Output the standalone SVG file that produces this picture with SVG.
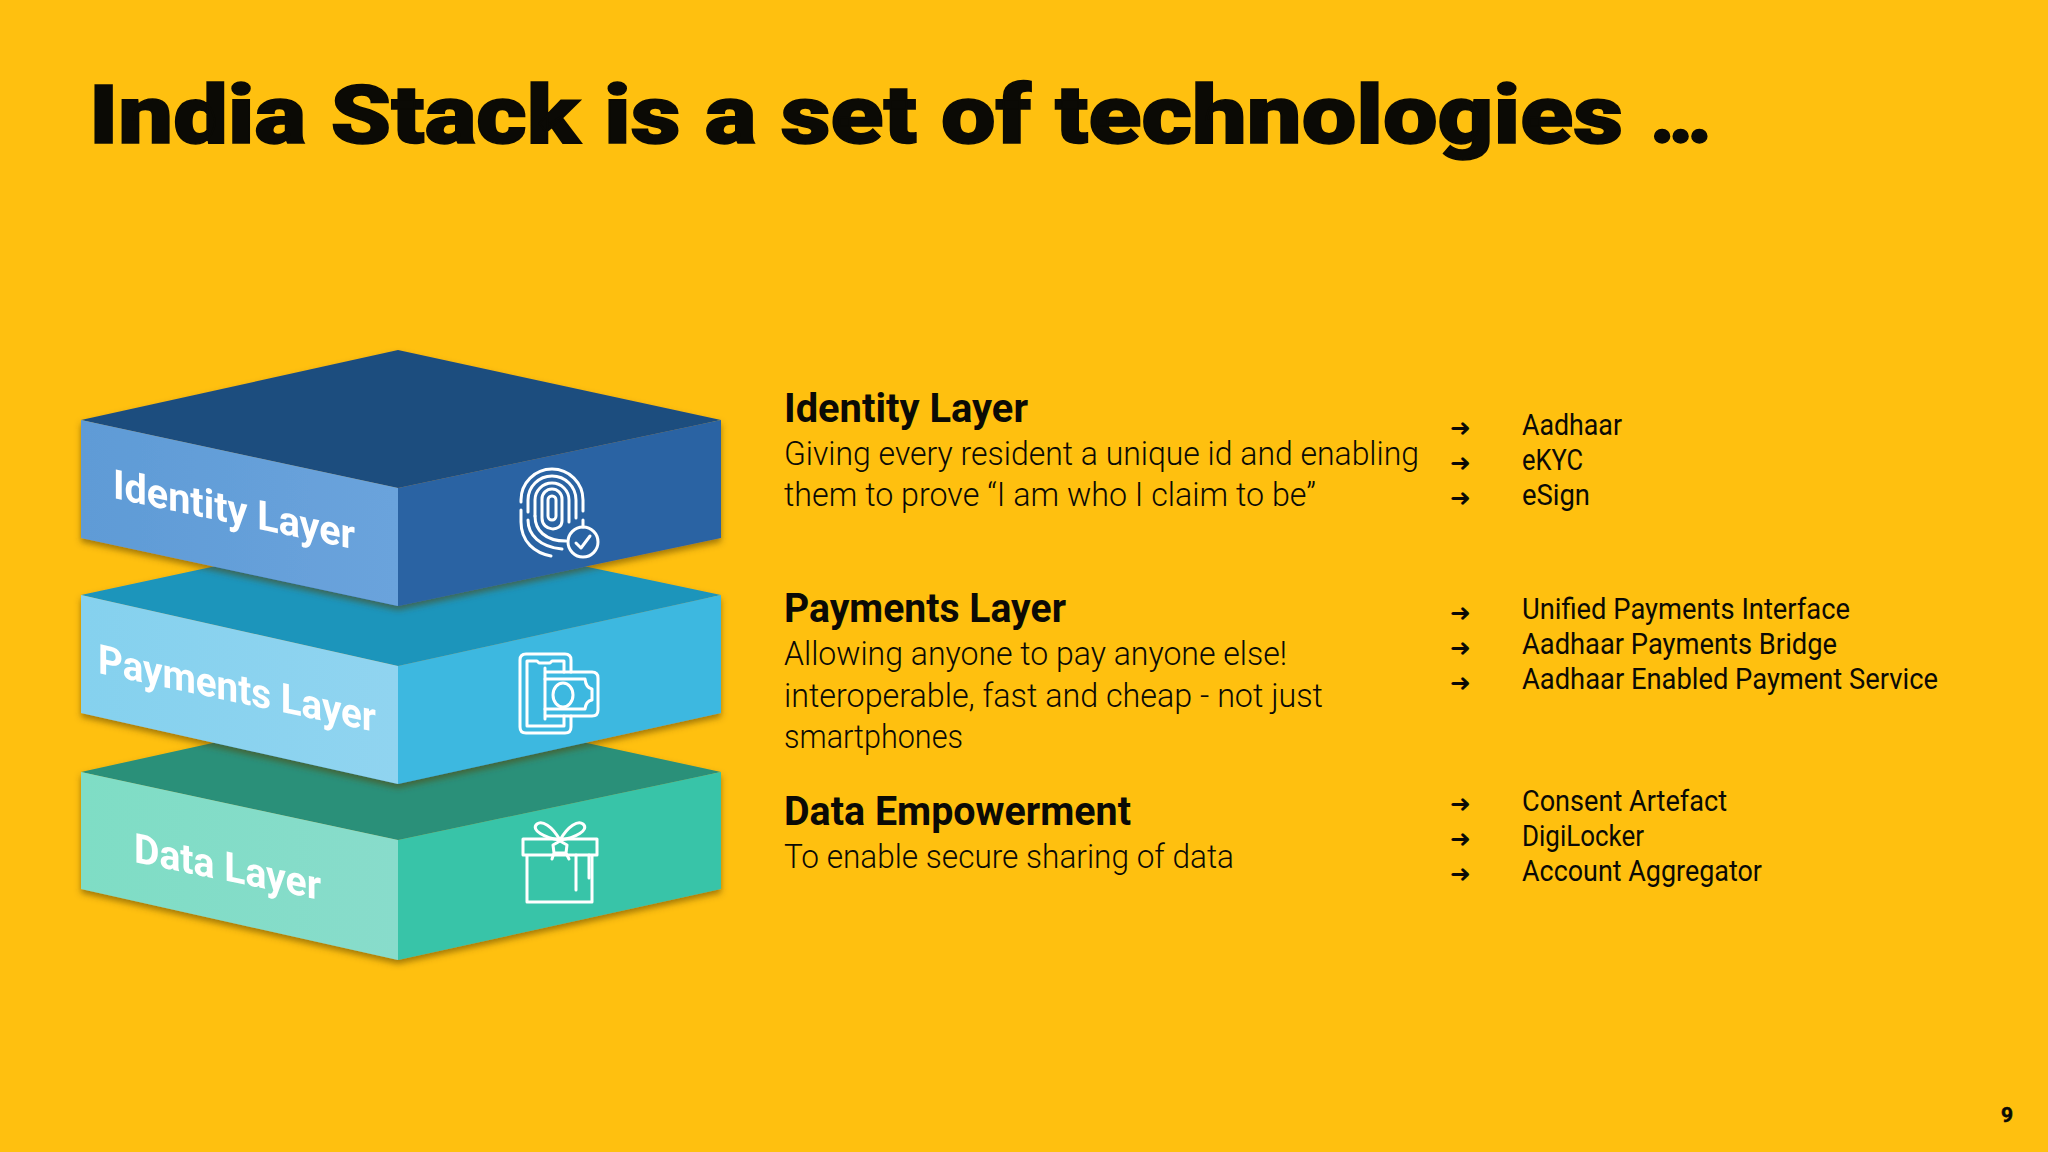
<svg xmlns="http://www.w3.org/2000/svg" width="2048" height="1152" viewBox="0 0 2048 1152">
<style>
text{font-family:Roboto,"Liberation Sans",sans-serif;fill:#0b0a05}
.h{font-size:40px;font-weight:700}
.b{font-size:33px;font-weight:300}
.l{font-size:29px;font-weight:400}
.a{font-family:"DejaVu Sans",sans-serif;font-size:24px}
.f{font-size:41px;font-weight:700;fill:#fff}
.i{fill:none;stroke:#fff;stroke-width:3;stroke-linecap:round;stroke-linejoin:round}
</style>
<defs>
<filter id="s" x="-5%" y="-5%" width="110%" height="115%"><feDropShadow dx="0" dy="4" stdDeviation="3" flood-color="#5a4000" flood-opacity=".55"/></filter>
<linearGradient id="l1"><stop offset="0" stop-color="#5f9bd6"/><stop offset="1" stop-color="#6aa3dc"/></linearGradient>
<linearGradient id="l2"><stop offset="0" stop-color="#85d1ee"/><stop offset="1" stop-color="#90d4f0"/></linearGradient>
<linearGradient id="l3"><stop offset="0" stop-color="#7fddc5"/><stop offset="1" stop-color="#88dccb"/></linearGradient>
</defs>
<rect width="2048" height="1152" fill="#ffc00f"/>
<text id="title" y="143" font-size="82" font-weight="900" stroke="#0b0a05" stroke-width="1.5"><tspan x="89" textLength="1534" lengthAdjust="spacingAndGlyphs">India Stack is a set of technologies</tspan> <tspan x="1650" textLength="62" lengthAdjust="spacing">...</tspan></text>

<g id="data-block" filter="url(#s)">
<path d="M81 772 398 702 721 772 398 840Z" fill="#2b9079"/>
<path d="M81 772 398 840V960L81 889Z" fill="url(#l3)"/>
<path d="M398 840 721 772V889L398 960Z" fill="#38c4a8"/>
<text class="f" transform="translate(134 862) skewY(11.5)" textLength="187" lengthAdjust="spacingAndGlyphs">Data Layer</text>
<g class="i">
<path d="M523 839H597V855H523ZM527 855V902H592V855"/>
<path d="M560 840C552 826 542 820 537 824C530 830 545 838 560 840C568 826 578 820 583 824C590 830 575 838 560 840"/>
<path d="M553 845 560 841 567 845 566 853H554ZM554 853 552 859M566 853 569 859M576 855V890M589 855V878"/>
</g>
</g>

<g id="payments-block" filter="url(#s)">
<path d="M81 595 398 527 721 595 398 666Z" fill="#1e95bb"/>
<path d="M81 595 398 666V784L81 713Z" fill="url(#l2)"/>
<path d="M398 666 721 595V713L398 784Z" fill="#3db8e0"/>
<text class="f" transform="translate(98 673) skewY(12)" textLength="278" lengthAdjust="spacingAndGlyphs">Payments Layer</text>
<g class="i">
<path d="M571 672V660Q571 654 565 654H526Q520 654 520 660V727Q520 733 526 733H565Q571 733 571 727V716"/>
<path d="M564 672V661H552L550 663H539L537 661H527V726H564V716"/>
<path d="M545 668V719M545 672H592Q598 672 598 678V710Q598 716 592 716H545"/>
<path d="M545 679H585Q586 688 592 689V700Q586 701 585 709H545"/>
<ellipse cx="563" cy="695" rx="10" ry="12"/>
</g>
</g>

<g id="identity-block" filter="url(#s)">
<path d="M81 420 398 350 721 420 398 488Z" fill="#1f4e7e"/>
<path d="M81 420 398 488V606L81 538Z" fill="url(#l1)"/>
<path d="M398 488 721 420V538L398 606Z" fill="#2964a3"/>
<text class="f" transform="translate(113 498) skewY(12)" textLength="242" lengthAdjust="spacingAndGlyphs">Identity Layer</text>
<g class="i">
<path d="M521 502V500A31 31 0 0 1 583 500V511"/>
<path d="M521 510V522C521 542 535 553 551 556"/>
<path d="M528 512V500A24 24 0 0 1 576 500V518"/>
<path d="M528 520C528 535 540 547 562 549"/>
<path d="M535 516V500A17 17 0 0 1 569 500V522"/>
<path d="M535 516C535 530 545 541 566 541"/>
<path d="M542 518V499A10 10 0 0 1 562 499V521C562 532 542 532 542 518"/>
<path d="M548 516V500A4 4 0 0 1 556 500V516A4 4 0 0 1 548 516Z"/>
<path d="M583 520V527"/>
<circle cx="583" cy="542" r="15"/>
<path d="M576 543 581 548 590 536"/>
</g>
</g>

<g id="identity-text">
<text class="h" x="784" y="422" textLength="244" lengthAdjust="spacingAndGlyphs">Identity Layer</text>
<text class="b" x="784" y="465" textLength="635" lengthAdjust="spacingAndGlyphs">Giving every resident a unique id and enabling</text>
<text class="b" x="784" y="506" textLength="532" lengthAdjust="spacingAndGlyphs">them to prove “I am who I claim to be”</text>
</g>
<g id="payments-text">
<text class="h" x="784" y="622" textLength="282" lengthAdjust="spacingAndGlyphs">Payments Layer</text>
<text class="b" x="784" y="665" textLength="503" lengthAdjust="spacingAndGlyphs">Allowing anyone to pay anyone else!</text>
<text class="b" x="784" y="707" textLength="539" lengthAdjust="spacingAndGlyphs">interoperable, fast and cheap - not just</text>
<text class="b" x="784" y="748" textLength="179" lengthAdjust="spacingAndGlyphs">smartphones</text>
</g>
<g id="data-text">
<text class="h" x="784" y="825" textLength="347" lengthAdjust="spacingAndGlyphs">Data Empowerment</text>
<text class="b" x="784" y="868" textLength="450" lengthAdjust="spacingAndGlyphs">To enable secure sharing of data</text>
</g>

<g id="identity-list">
<text class="a" x="1450" y="436" textLength="21" lengthAdjust="spacingAndGlyphs">➜</text>
<text class="a" x="1450" y="471" textLength="21" lengthAdjust="spacingAndGlyphs">➜</text>
<text class="a" x="1450" y="506" textLength="21" lengthAdjust="spacingAndGlyphs">➜</text>
<text class="l" x="1522" y="435" textLength="100" lengthAdjust="spacingAndGlyphs">Aadhaar</text>
<text class="l" x="1522" y="470" textLength="61" lengthAdjust="spacingAndGlyphs">eKYC</text>
<text class="l" x="1522" y="505" textLength="68" lengthAdjust="spacingAndGlyphs">eSign</text>
</g>
<g id="payments-list">
<text class="a" x="1450" y="621" textLength="21" lengthAdjust="spacingAndGlyphs">➜</text>
<text class="a" x="1450" y="656" textLength="21" lengthAdjust="spacingAndGlyphs">➜</text>
<text class="a" x="1450" y="691" textLength="21" lengthAdjust="spacingAndGlyphs">➜</text>
<text class="l" x="1522" y="619" textLength="328" lengthAdjust="spacingAndGlyphs">Unified Payments Interface</text>
<text class="l" x="1522" y="654" textLength="315" lengthAdjust="spacingAndGlyphs">Aadhaar Payments Bridge</text>
<text class="l" x="1522" y="689" textLength="416" lengthAdjust="spacingAndGlyphs">Aadhaar Enabled Payment Service</text>
</g>
<g id="data-list">
<text class="a" x="1450" y="812" textLength="21" lengthAdjust="spacingAndGlyphs">➜</text>
<text class="a" x="1450" y="847" textLength="21" lengthAdjust="spacingAndGlyphs">➜</text>
<text class="a" x="1450" y="882" textLength="21" lengthAdjust="spacingAndGlyphs">➜</text>
<text class="l" x="1522" y="811" textLength="205" lengthAdjust="spacingAndGlyphs">Consent Artefact</text>
<text class="l" x="1522" y="846" textLength="122" lengthAdjust="spacingAndGlyphs">DigiLocker</text>
<text class="l" x="1522" y="881" textLength="240" lengthAdjust="spacingAndGlyphs">Account Aggregator</text>
</g>
<text id="page" x="2001" y="1122" font-size="21" font-weight="700" stroke="#0b0a05" stroke-width=".5">9</text>
</svg>
